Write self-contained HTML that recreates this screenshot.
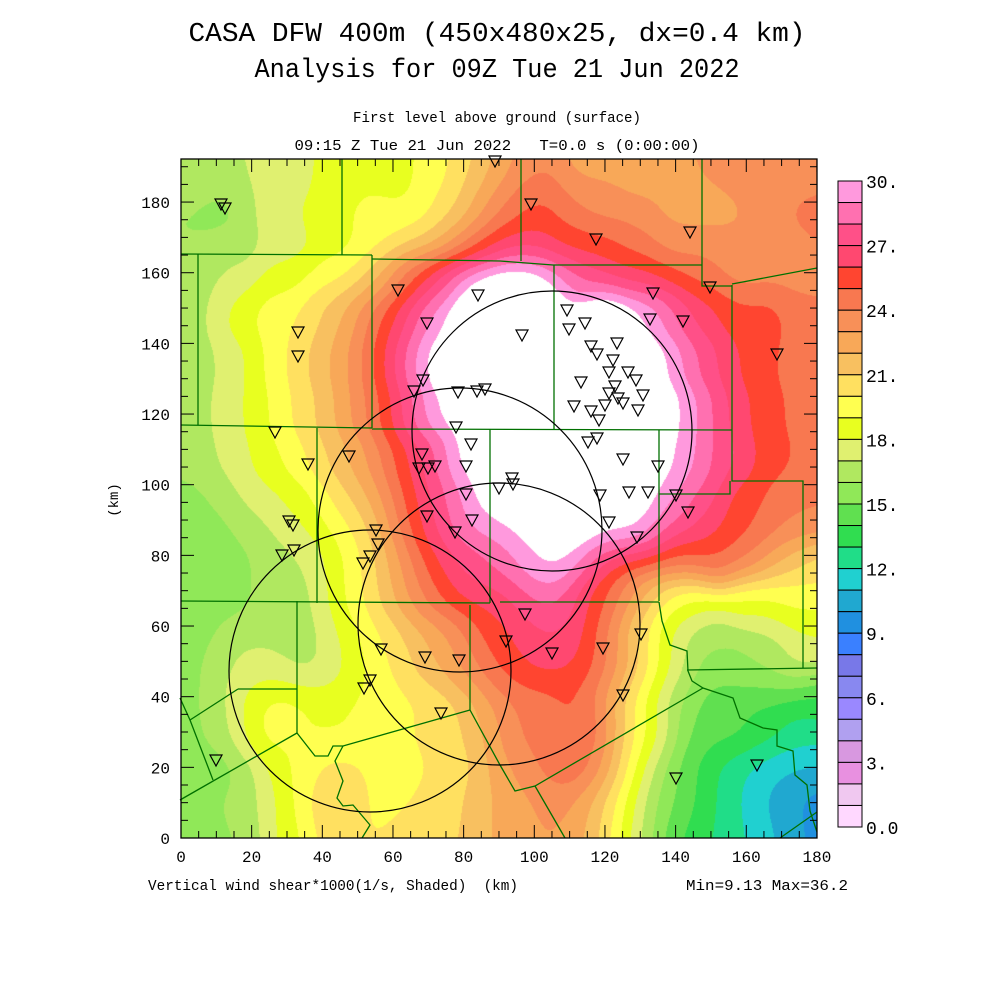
<!DOCTYPE html>
<html><head><meta charset="utf-8"><style>
body{margin:0;background:#fff;width:1000px;height:1000px;overflow:hidden;position:relative}
#cv{position:absolute;left:181px;top:159px}
svg{position:absolute;left:0;top:0}
</style></head><body>
<canvas id="cv" width="636" height="679"></canvas>
<svg width="1000" height="1000" xmlns="http://www.w3.org/2000/svg" font-family="Liberation Mono, monospace">
<g id="ov"></g>
<text x="497" y="41" font-size="27" text-anchor="middle" textLength="617" lengthAdjust="spacingAndGlyphs">CASA DFW 400m (450x480x25, dx=0.4 km)</text>
<text x="497" y="77" font-size="27" text-anchor="middle" textLength="485" lengthAdjust="spacingAndGlyphs">Analysis for 09Z Tue 21 Jun 2022</text>
<text x="497" y="122" font-size="15" text-anchor="middle" textLength="288" lengthAdjust="spacingAndGlyphs">First level above ground (surface)</text>
<text x="497" y="150" font-size="15" text-anchor="middle" textLength="405" lengthAdjust="spacingAndGlyphs">09:15 Z Tue 21 Jun 2022&#160;&#160; T=0.0 s (0:00:00)</text>
<text x="148" y="890" font-size="15" textLength="370" lengthAdjust="spacingAndGlyphs">Vertical wind shear*1000(1/s, Shaded)&#160; (km)</text>
<text x="848" y="890" font-size="15" text-anchor="end" textLength="162" lengthAdjust="spacingAndGlyphs">Min=9.13 Max=36.2</text>
<text x="0" y="0" font-size="14" transform="translate(118,500) rotate(-90)" text-anchor="middle">(km)</text>
</svg>
<script>
const rows=[
[192,[[5,16.5],[20,17],[30,17.5],[45,18.5],[60,18.5],[72,19.5],[82,20.5],[90,22.5],[100,23.5],[115,22.5],[130,22.5],[145,23],[160,23.5],[175,23.5]]],
[186,[[5,16.5],[20,17],[30,17.5],[45,18.5],[60,18.5],[72,19.5],[82,21],[90,23],[100,24.5],[115,23],[130,22.5],[145,23],[160,23.5],[175,23.5]]],
[178,[[5,16],[12,15.5],[25,17.5],[40,18.5],[55,19.5],[65,19],[75,20.5],[82,21.5],[88,23.5],[92,25],[100,25.5],[110,24.5],[120,23.5],[130,23.5],[140,22.5],[155,22.5],[165,23.5],[178,24.5]]],
[168,[[5,16],[15,16.5],[30,17.5],[45,18.5],[55,19.5],[65,20.5],[72,21.5],[80,23.5],[86,25.5],[92,27],[100,26.5],[110,25.5],[120,25.5],[128,24.5],[140,23.5],[155,23.5],[170,23.5],[178,24]]],
[158,[[5,16.5],[15,17.5],[30,18.5],[42,19.5],[52,20.5],[58,22],[63,24],[67,25.5],[72,27.5],[78,29.5],[85,31],[92,32],[100,31],[108,29],[118,27.5],[128,26.5],[137,25.5],[147,24.5],[160,23.5],[175,23.5]]],
[148,[[5,16.5],[15,18.5],[25,19.5],[35,20],[42,21.5],[48,22.5],[55,24.5],[60,25.5],[64,27],[68,29],[72,31],[85,34],[100,34],[120,33],[130,31],[135,29.5],[140,27.5],[147,26.5],[157,25.5],[166,25.5],[175,24.5]]],
[135,[[5,16.5],[15,17.5],[25,19],[32,20.5],[40,21.5],[46,22.5],[52,24],[57,25.5],[62,27.5],[66,29.5],[72,32],[90,35],[115,35],[132,32],[137,29.5],[145,28.5],[152,26.5],[162,25.5],[175,24.5]]],
[120,[[5,16.5],[13,17.5],[22,18.5],[30,19.5],[35,20.5],[40,21.5],[46,22.5],[52,23.5],[56,24.5],[60,25.5],[63,27],[66,29],[70,31.5],[90,35],[120,35],[137,32],[142,29.5],[147,28.5],[155,26.5],[166,25.5],[175,24.5]]],
[107,[[5,16.5],[15,17.5],[25,18.5],[32,19.5],[40,20.5],[45,21.5],[50,22.5],[55,23.5],[60,24.5],[64,25.5],[67,26.5],[70,28],[74,29.5],[80,31.5],[100,34],[125,34],[138,31.5],[142,29.5],[146,28],[155,27],[168,25.5],[178,24.5]]],
[96,[[3,15.5],[10,16.5],[20,17.5],[30,18],[38,19],[45,20.5],[50,21.5],[55,22.5],[60,24],[64,25.5],[68,26.5],[72,27.5],[76,28.5],[82,30.5],[90,31.5],[100,33],[115,33],[128,32],[137,30],[142,28.5],[148,27],[160,25.5],[172,24.5],[178,24]]],
[88,[[3,15.5],[10,15.5],[20,16.5],[32,17.5],[42,18.5],[49,19.5],[53,20.5],[57,21.5],[61,23.5],[64,25.5],[68,27],[75,28],[85,29],[95,29.5],[102,31.5],[110,32],[120,30],[130,30.5],[137,27],[147,26.5],[156,25.5],[166,24.5],[175,23.5]]],
[78,[[5,15.5],[15,15.5],[25,16.5],[35,17],[45,18],[49,19.5],[54,20.5],[58,21.5],[62,23],[66,25],[72,26.5],[82,27.5],[92,28.5],[100,29.5],[106,31],[112,29],[120,27],[130,26],[140,24.5],[150,25],[160,24],[170,22],[178,20.5]]],
[68,[[5,15.5],[15,15.5],[25,16.5],[35,16.5],[44,18],[49,19.5],[54,20.5],[58,21.5],[63,22.5],[67,24],[72,25.5],[80,26.5],[90,26.5],[100,28],[108,28.5],[115,26.5],[118,25.5],[122,24.5],[126,23.5],[130,21.5],[136,19.5],[145,18.5],[160,18.5],[170,19],[178,19.5]]],
[58,[[5,15.5],[15,16.5],[25,16.5],[35,16.5],[45,17.5],[50,19],[55,20],[60,20.5],[66,21.5],[72,22.5],[78,23.5],[85,25.5],[92,26],[100,27],[110,27],[118,25.5],[124,23.5],[128,21],[132,19],[138,17],[150,16.5],[165,17],[178,18]]],
[49,[[3,15.5],[10,16.5],[18,17.5],[25,17.5],[33,16.5],[40,16.5],[45,17.5],[49,19],[55,19.5],[62,20.5],[70,21.5],[76,22.5],[82,23.5],[88,25],[92,25.5],[98,26.5],[108,26.5],[116,25.5],[123,24.5],[127,22.5],[131,20.5],[135,18.5],[140,16.5],[150,15.5],[160,15.5],[166,16.5],[176,17.5]]],
[40,[[3,15.5],[10,16.5],[18,18.5],[28,19.5],[38,19],[48,19],[58,19.5],[70,20],[80,21],[88,23],[95,24.5],[104,24.5],[112,25.5],[118,24],[124,22],[128,19.5],[133,17.5],[140,15.5],[152,14.5],[165,14],[178,13.5]]],
[30,[[3,15.5],[10,16],[14,17.5],[22,19.5],[28,19.5],[35,18.8],[45,18.8],[55,19.5],[66,20],[75,20.5],[85,21.5],[92,23.5],[98,24.5],[104,24.5],[112,25.5],[117,25.5],[121,23.5],[126,21.5],[128,19.5],[131,18.5],[136,16.5],[145,14.5],[156,14.5],[165,13.5],[175,12.5]]],
[20,[[3,15.5],[10,15],[18,16.5],[28,18.5],[35,19.5],[42,20.5],[50,20],[60,19.5],[70,20],[80,20.5],[90,22.5],[98,23.5],[105,24.5],[112,25.5],[117,24.5],[121,22.5],[125,20],[130,17.5],[136,15.5],[145,14],[155,12.5],[165,11.5],[175,11]]],
[10,[[3,15.5],[10,16],[18,16.5],[27,17.5],[33,19.5],[40,21],[46,21],[55,19.5],[65,20],[75,20.5],[85,21.5],[92,22.5],[100,23],[108,23.5],[115,23],[119,21.5],[123,19.5],[128,17.5],[134,15.5],[142,14.5],[152,13],[161,11.5],[170,10.5],[177,9.5]]],
[1,[[3,15],[15,16],[30,18],[40,20.5],[50,20],[65,20.5],[80,21],[92,22.5],[105,23],[115,22.5],[122,19.5],[130,16.5],[140,14],[150,13],[160,12],[170,11],[178,9.5]]]
];
const P=[];rows.forEach(r=>r[1].forEach(p=>P.push([p[0],r[0],p[1]])));
const GW=181,GH=193,G=new Float32Array(GW*GH),s2=2*5.5*5.5;
for(let gy=0;gy<GH;gy++)for(let gx=0;gx<GW;gx++){let sw=0,sv=0;for(const p of P){const dx=gx-p[0],dy=gy-p[1];const w=Math.exp(-(dx*dx+dy*dy)/s2)+1e-12;sw+=w;sv+=w*p[2];}G[gy*GW+gx]=sv/sw;}
const C=['#ffd8ff','#f0c8f0','#e890e0','#d898e0','#b0a0f0','#9a88ff','#8888f0','#7878e8','#3a80ff','#2090e0','#20a8d0','#20d0d0','#20dd88','#30dd50','#60e050','#90e858','#b0e860','#e0f070','#e8ff20','#ffff50','#ffe060','#f8c060','#f8a858','#f89058','#f87850','#ff4530','#ff4870','#ff5088','#ff70b0','#ff99dd'];
const RGB=C.map(h=>[parseInt(h.substr(1,2),16),parseInt(h.substr(3,2),16),parseInt(h.substr(5,2),16)]);
const cv=document.getElementById('cv'),ctx=cv.getContext('2d'),W=636,H=679,img=ctx.createImageData(W,H),K=3.533;
for(let j=0;j<H;j++)for(let i=0;i<W;i++){let x=i/K,y=(H-j)/K;if(x>180)x=180;if(y>192)y=192;const x0=Math.floor(x),y0=Math.floor(y),x1=Math.min(x0+1,180),y1=Math.min(y0+1,192),fx=x-x0,fy=y-y0;
const v=(G[y0*GW+x0]*(1-fx)+G[y0*GW+x1]*fx)*(1-fy)+(G[y1*GW+x0]*(1-fx)+G[y1*GW+x1]*fx)*fy;
let c=v>=30?[255,255,255]:RGB[Math.max(0,Math.floor(v))];const o=(j*W+i)*4;img.data[o]=c[0];img.data[o+1]=c[1];img.data[o+2]=c[2];img.data[o+3]=255;}
ctx.putImageData(img,0,0);
let s='';
const lines=[[[342,159],[342,255]],[[181,254],[372,255]],[[198,254],[198,425]],[[181,425],[372,428]],[[372,255],[372,428]],[[372,259],[500,261],[553,265],[702,265]],[[521,159],[521,261]],[[702,159],[702,286],[732,286]],[[732,284],[817,268]],[[732,285],[732,481],[803,481],[803,668]],[[687,670],[817,668]],[[554,265],[554,430]],[[372,429],[732,430]],[[490,429],[490,603]],[[659,430],[659,601]],[[659,494],[730,494],[730,481]],[[500,602],[659,602]],[[181,601],[490,603]],[[317,428],[317,603]],[[659,602],[662,621],[670,645],[687,651],[688,671],[692,681],[703,688],[733,698],[740,718],[763,728],[777,730],[777,746],[793,751],[795,775],[807,785],[810,811],[817,832]],[[703,688],[535,786],[515,791],[500,765],[470,710],[470,605]],[[535,786],[565,838]],[[297,601],[297,733]],[[238,689],[297,689]],[[238,689],[190,720]],[[180,698],[190,720],[213,780]],[[297,733],[180,800]],[[297,733],[315,756],[328,756],[333,746],[343,746],[470,710]],[[343,746],[335,761],[343,781],[337,798],[343,806],[353,805],[370,825],[362,838]],[[780,838],[817,812]]];
lines.forEach(l=>{s+='<polyline fill="none" stroke="#007000" stroke-width="1.3" points="'+l.map(p=>p.join(',')).join(' ')+'"/>';});
[[552,431,140],[460,530,142],[499,624,141],[370,671,141]].forEach(c=>{s+=`<circle cx="${c[0]}" cy="${c[1]}" r="${c[2]}" fill="none" stroke="#000" stroke-width="1.2"/>`;});
const T=[[221,204],[225,208],[298,332],[298,356],[398,290],[427,323],[478,295],[495,161],[531,204],[596,239],[690,232],[710,287],[777,354],[522,335],[569,329],[585,323],[567,310],[591,346],[597,354],[581,382],[609,372],[613,360],[609,393],[615,386],[618,398],[643,395],[636,380],[628,372],[617,343],[653,293],[683,321],[650,319],[638,410],[623,403],[599,420],[591,411],[605,405],[574,406],[275,432],[308,464],[349,456],[422,454],[419,468],[428,468],[435,466],[466,466],[471,444],[456,427],[485,389],[477,391],[458,392],[423,380],[414,391],[597,438],[588,442],[623,459],[658,466],[600,495],[629,492],[648,492],[676,495],[688,512],[609,522],[637,537],[427,516],[455,532],[472,520],[499,488],[513,484],[512,478],[466,494],[289,521],[293,525],[294,550],[282,555],[376,530],[378,544],[370,556],[363,563],[381,649],[425,657],[459,660],[506,641],[552,653],[603,648],[641,634],[623,695],[676,778],[757,765],[216,760],[441,713],[364,688],[370,680],[525,614]];
T.forEach(t=>{const x=t[0],y=t[1];s+=`<polygon points="${x-6},${y-5} ${x+6},${y-5} ${x},${y+6}" fill="none" stroke="#000" stroke-width="1.2"/>`;});
s+='<rect x="181" y="159" width="636" height="679" fill="none" stroke="#000" stroke-width="1.3"/>';
for(let k=0;k<=36;k++){const x=181+k*5*K;const L=(k%4==0)?13:7;s+=`<line x1="${x}" y1="838" x2="${x}" y2="${838-L}" stroke="#000"/><line x1="${x}" y1="159" x2="${x}" y2="${159+L}" stroke="#000"/>`;if(k%4==0)s+=`<text x="${x}" y="862" font-size="16" text-anchor="middle">${k*5}</text>`;}
for(let k=0;k<=38;k++){const y=838-k*5*K;const L=(k%4==0)?13:7;s+=`<line x1="181" y1="${y}" x2="${181+L}" y2="${y}" stroke="#000"/><line x1="817" y1="${y}" x2="${817-L}" y2="${y}" stroke="#000"/>`;if(k%4==0)s+=`<text x="170" y="${y+6}" font-size="16" text-anchor="end">${k*5}</text>`;}
const bt=181,bb=827,bh=(bb-bt)/30;
for(let i=0;i<30;i++){s+=`<rect x="838" y="${bt+i*bh}" width="24" height="${bh}" fill="${C[29-i]}" stroke="#000" stroke-width="1"/>`;}
['30.','27.','24.','21.','18.','15.','12.','9.','6.','3.','0.0'].forEach((t,i)=>{s+=`<text x="866" y="${bt+i*3*bh+7}" font-size="18">${t}</text>`;});
document.getElementById('ov').innerHTML=s;
</script>
</body></html>
